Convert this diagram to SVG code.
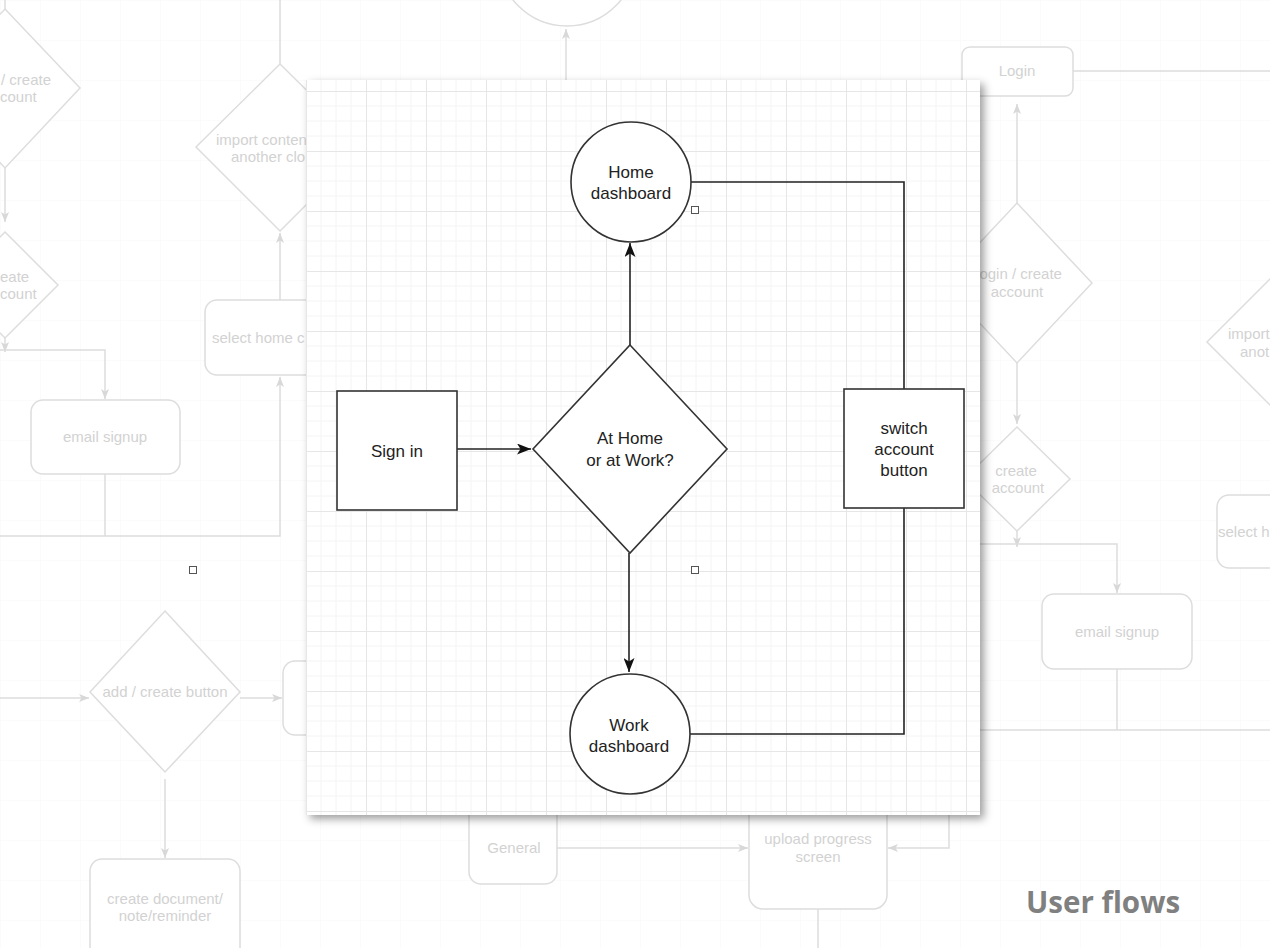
<svg xmlns="http://www.w3.org/2000/svg" width="1270" height="948" viewBox="0 0 1270 948">
<style>
.bgs{fill:none;stroke:#dddddd;stroke-width:1.5}
.bgn{fill:#ffffff;stroke:#dddddd;stroke-width:1.5}
.bgt{font-family:"Liberation Sans",Arial,sans-serif;font-size:15px;fill:#d2d2d2}
.mid{text-anchor:middle}
.nd{fill:#ffffff;stroke:#333333;stroke-width:1.6}
.cn{fill:none;stroke:#222222;stroke-width:1.6}
.tx{font-family:"Liberation Sans",Arial,sans-serif;font-size:17px;fill:#222222;text-anchor:middle}
.hd{fill:#ffffff;stroke:#555555;stroke-width:1}
</style>
<defs>
<marker id="bga" markerUnits="userSpaceOnUse" markerWidth="10" markerHeight="8" refX="10" refY="4" orient="auto">
<path d="M0,0 L10,4 L0,8 L2.5,4 Z" fill="#d8d8d8"/>
</marker>
<marker id="arr" markerUnits="userSpaceOnUse" markerWidth="14" markerHeight="11" refX="14" refY="5.5" orient="auto">
<path d="M0,0 L14,5.5 L0,11 L3.5,5.5 Z" fill="#111111"/>
</marker>
<pattern id="bggrid" patternUnits="userSpaceOnUse" x="0" y="0" width="40" height="40">
<path d="M0,0 V40 M0,0 H40" fill="none" stroke="#f8f8f8" stroke-width="1"/>
</pattern>
<pattern id="grid" patternUnits="userSpaceOnUse" x="306" y="31" width="60" height="60">
<path d="M15,0 V60 M30,0 V60 M45,0 V60 M0,15 H60 M0,30 H60 M0,45 H60" fill="none" stroke="#f4f4f4" stroke-width="1"/>
<path d="M0.5,0 V60 M0,0.5 H60" fill="none" stroke="#e6e6e6" stroke-width="1"/>
</pattern>
<filter id="shadow" x="-5%" y="-5%" width="112%" height="112%">
<feDropShadow dx="4" dy="4" stdDeviation="4" flood-color="#000000" flood-opacity="0.38"/>
</filter>
</defs>

<rect x="0" y="0" width="1270" height="948" fill="#ffffff"/>
<rect x="0" y="0" width="1270" height="948" fill="url(#bggrid)"/>

<g id="background-connectors" class="bgs">
<path d="M5,0 V9"/>
<path d="M5,168 V222" marker-end="url(#bga)"/>
<path d="M5,338 V352" marker-end="url(#bga)"/>
<path d="M0,350 H105 V399" marker-end="url(#bga)"/>
<path d="M105,474 V536 M0,536 H280 V377" marker-end="url(#bga)"/>
<path d="M280,300 V233" marker-end="url(#bga)"/>
<path d="M280,64 V0"/>
<path d="M566,80 V29" marker-end="url(#bga)"/>
<path d="M1017,203 V104" marker-end="url(#bga)"/>
<path d="M1073,71 H1270"/>
<path d="M1017,363 V424" marker-end="url(#bga)"/>
<path d="M1017,531 V547" marker-end="url(#bga)"/>
<path d="M975,544 H1117 V593" marker-end="url(#bga)"/>
<path d="M1117,669 V730 M975,730 H1270"/>
<path d="M0,698 H89" marker-end="url(#bga)"/>
<path d="M240,698 H282" marker-end="url(#bga)"/>
<path d="M165,779 V858" marker-end="url(#bga)"/>
<path d="M557,848 H748" marker-end="url(#bga)"/>
<path d="M949,800 V848 H888" marker-end="url(#bga)"/>
<path d="M818,909 V948"/>
</g>

<g id="bg-top-circle"><circle class="bgn" cx="567" cy="-43" r="69"/></g>
<g id="bg-login-create-left">
<polygon class="bgn" points="5,9 80,88 5,168 -70,88"/>
<text class="bgt" x="1" y="85">/ create</text>
<text class="bgt" x="0" y="102">count</text>
</g>
<g id="bg-create-account-left">
<polygon class="bgn" points="5,232 58,285 5,338 -48,285"/>
<text class="bgt" x="0" y="282">eate</text>
<text class="bgt" x="0" y="299">count</text>
</g>
<g id="bg-email-left">
<rect class="bgn" x="31" y="400" width="149" height="74" rx="12"/>
<text class="bgt mid" x="105" y="442">email signup</text>
</g>
<g id="bg-select-home-left">
<rect class="bgn" x="205" y="300" width="150" height="75" rx="12"/>
<text class="bgt" x="212" y="343">select home c</text>
</g>
<g id="bg-import-left">
<polygon class="bgn" points="280,64 364,147 280,231 196,147"/>
<text class="bgt" x="216" y="145">import conten</text>
<text class="bgt" x="231" y="162">another clo</text>
</g>
<g id="bg-add-create">
<polygon class="bgn" points="165,611 240,692 165,772 90,692"/>
<text class="bgt mid" x="165" y="697">add / create button</text>
</g>
<g id="bg-upload-left"><rect class="bgn" x="283" y="661" width="150" height="74" rx="12"/></g>
<g id="bg-create-doc">
<rect class="bgn" x="90" y="859" width="150" height="110" rx="12"/>
<text class="bgt mid" x="165" y="904">create document/</text>
<text class="bgt mid" x="165" y="921">note/reminder</text>
</g>
<g id="bg-general">
<rect class="bgn" x="469" y="780" width="88" height="104" rx="12"/>
<text class="bgt mid" x="514" y="853">General</text>
</g>
<g id="bg-upload-progress">
<rect class="bgn" x="749" y="790" width="138" height="119" rx="14"/>
<text class="bgt mid" x="818" y="844">upload progress</text>
<text class="bgt mid" x="818" y="862">screen</text>
</g>
<g id="bg-login">
<rect class="bgn" x="962" y="47" width="111" height="49" rx="8"/>
<text class="bgt mid" x="1017" y="76">Login</text>
</g>
<g id="bg-login-create-right">
<polygon class="bgn" points="1017,203 1092,283 1017,363 942,283"/>
<text class="bgt mid" x="1019" y="279">login / create</text>
<text class="bgt mid" x="1017" y="297">account</text>
</g>
<g id="bg-create-account-right">
<polygon class="bgn" points="1017,427 1070,479 1017,531 964,479"/>
<text class="bgt mid" x="1016" y="476">create</text>
<text class="bgt mid" x="1018" y="493">account</text>
</g>
<g id="bg-email-right">
<rect class="bgn" x="1042" y="594" width="150" height="75" rx="12"/>
<text class="bgt mid" x="1117" y="637">email signup</text>
</g>
<g id="bg-import-right">
<polygon class="bgn" points="1291,258 1375,342 1291,426 1207,342"/>
<text class="bgt" x="1228" y="339">import</text>
<text class="bgt" x="1240" y="357">anot</text>
</g>
<g id="bg-select-right">
<rect class="bgn" x="1217" y="495" width="150" height="73" rx="12"/>
<text class="bgt" x="1218" y="537">select h</text>
</g>

<g id="panel">
<rect x="306" y="80" width="674" height="735" fill="#ffffff" filter="url(#shadow)"/>
<rect x="306" y="80" width="674" height="735" fill="url(#grid)"/>
</g>

<g id="connectors">
<path class="cn" d="M457,449 H531" marker-end="url(#arr)"/>
<path class="cn" d="M630,345 V243" marker-end="url(#arr)"/>
<path class="cn" d="M629,553 V672" marker-end="url(#arr)"/>
<path class="cn" d="M691,182 H904 V389"/>
<path class="cn" d="M904,508 V734 H690"/>
</g>

<g id="node-signin">
<rect class="nd" x="337" y="391" width="120" height="119"/>
<text class="tx" x="397" y="457">Sign in</text>
</g>
<g id="node-decision">
<polygon class="nd" points="630,345 727,449 630,553 533,449"/>
<text class="tx" x="630" y="444">At Home</text>
<text class="tx" x="630" y="466">or at Work?</text>
</g>
<g id="node-home">
<circle class="nd" cx="631" cy="182" r="60"/>
<text class="tx" x="631" y="178">Home</text>
<text class="tx" x="631" y="199">dashboard</text>
</g>
<g id="node-work">
<circle class="nd" cx="630" cy="734" r="60"/>
<text class="tx" x="629" y="731">Work</text>
<text class="tx" x="629" y="752">dashboard</text>
</g>
<g id="node-switch">
<rect class="nd" x="844" y="389" width="120" height="119"/>
<text class="tx" x="904" y="434">switch</text>
<text class="tx" x="904" y="455">account</text>
<text class="tx" x="904" y="476">button</text>
</g>

<g id="handles">
<rect class="hd" x="691.5" y="206.5" width="7" height="7"/>
<rect class="hd" x="691.5" y="566.5" width="7" height="7"/>
<rect class="hd" x="189.5" y="566.5" width="7" height="7"/>
</g>

<text x="1026" y="913" font-family="'Open Sans',sans-serif" font-weight="bold" font-size="29.5" fill="#808080">User flows</text>
</svg>
